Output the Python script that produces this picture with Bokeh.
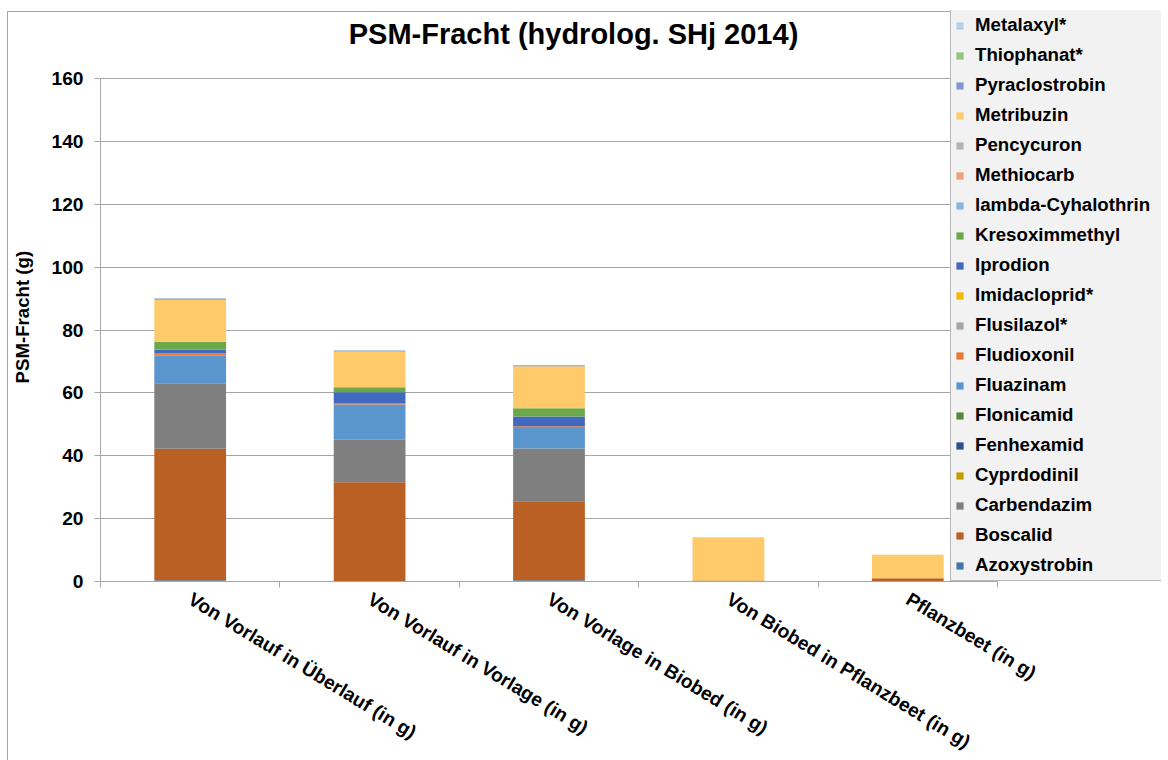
from bokeh.plotting import figure
from bokeh.models import (Range1d, FixedTicker, Legend, LegendItem, Title, Label)
from bokeh.embed import file_html
from bokeh.resources import INLINE

categories = ["Von Vorlauf in Überlauf (in g)", "Von Vorlauf in Vorlage (in g)",
              "Von Vorlage in Biobed (in g)", "Von Biobed in Pflanzbeet (in g)",
              "Pflanzbeet (in g)"]

series_names = ["Azoxystrobin", "Boscalid", "Carbendazim", "Cyprdodinil", "Fenhexamid",
                "Flonicamid", "Fluazinam", "Fludioxonil", "Flusilazol*", "Imidacloprid*",
                "Iprodion", "Kresoximmethyl", "lambda-Cyhalothrin", "Methiocarb",
                "Pencycuron", "Metribuzin", "Pyraclostrobin", "Thiophanat*", "Metalaxyl*"]

Azoxystrobin = [0.4, 0.0, 0.4, 0.0, 0.0]
Boscalid = [41.8, 31.6, 25.1, 0.3, 1.0]
Carbendazim = [20.9, 13.5, 16.8, 0.0, 0.0]
Cyprdodinil = [0.0, 0.0, 0.0, 0.0, 0.0]
Fenhexamid = [0.0, 0.0, 0.0, 0.0, 0.0]
Flonicamid = [0.0, 0.0, 0.0, 0.0, 0.0]
Fluazinam = [8.8, 11.2, 6.5, 0.0, 0.0]
Fludioxonil = [0.7, 0.5, 0.6, 0.0, 0.0]
Flusilazol = [0.0, 0.0, 0.0, 0.0, 0.0]
Imidacloprid = [0.0, 0.0, 0.0, 0.0, 0.0]
Iprodion = [1.1, 3.4, 3.1, 0.0, 0.0]
Kresoximmethyl = [2.6, 1.6, 2.6, 0.0, 0.0]
lambda_Cyhalothrin = [0.0, 0.0, 0.0, 0.0, 0.0]
Methiocarb = [0.0, 0.0, 0.0, 0.0, 0.0]
Pencycuron = [0.0, 0.0, 0.0, 0.0, 0.0]
Metribuzin = [13.3, 11.4, 13.4, 13.8, 7.5]
Pyraclostrobin = [0.4, 0.3, 0.3, 0.0, 0.0]
Thiophanat = [0.0, 0.0, 0.0, 0.0, 0.0]
Metalaxyl = [0.0, 0.1, 0.0, 0.0, 0.0]

series_values = [Azoxystrobin, Boscalid, Carbendazim, Cyprdodinil, Fenhexamid, Flonicamid,
                 Fluazinam, Fludioxonil, Flusilazol, Imidacloprid, Iprodion, Kresoximmethyl,
                 lambda_Cyhalothrin, Methiocarb, Pencycuron, Metribuzin, Pyraclostrobin,
                 Thiophanat, Metalaxyl]

colors = ["#4677AC", "#BA6024", "#7F7F7F", "#C89B00", "#2E4F8F", "#548B3A",
          "#5A95CD", "#E9772F", "#A5A5A5", "#F5B800", "#4069BF", "#6AA84A",
          "#88B4E0", "#F0A07A", "#B5B5B5", "#FFCA69", "#7D97D3", "#93C47D", "#B6CFEA"]

y_ticks = [0, 20, 40, 60, 80, 100, 120, 140, 160]
y_max = 160

FONT = "Liberation Sans"
FS = "18.67px"
FS_AX = "19.2px"
GRID = "#A6A6A6"

# layout (pixels)
PLOT_W = 897          # width occupied by the categories
PLOT_H = 503          # height occupied by 0..160
FRAME_W = 1061        # frame extends under the legend
FRAME_H = 571

n_cat = len(categories)
centers = [i + 0.5 for i in range(n_cat)]
boundaries = list(range(n_cat + 1))

keys = ["s%d" % i for i in range(len(series_names))]
data = {"x": centers}
for k, v in zip(keys, series_values):
    data[k] = v

p = figure(x_range=Range1d(0, n_cat * FRAME_W / PLOT_W),
           y_range=Range1d(0, y_max * FRAME_H / PLOT_H),
           frame_width=FRAME_W, frame_height=FRAME_H,
           min_border_left=99, min_border_top=10, min_border_right=0,
           min_border_bottom=179,
           output_backend="svg", toolbar_location=None)
p.background_fill_color = None
p.border_fill_color = None
p.styles = {
    "margin-left": "-6px",
    "background": ("linear-gradient(#A6A6A6, #A6A6A6) 13px 11px / 1px 100% no-repeat, "
                   "linear-gradient(#A6A6A6, #A6A6A6) 13px 11px / 100% 1px no-repeat"),
}

renderers = p.vbar_stack(keys, x="x", width=0.4, source=data, color=colors,
                         line_color=None)

xax = p.xaxis[0]
xax.bounds = (0, n_cat)
xax.ticker = FixedTicker(ticks=centers, minor_ticks=boundaries)
xax.major_label_overrides = {c: lab for c, lab in zip(centers, categories)}
xax.major_tick_line_color = None
xax.minor_tick_out = 6
xax.minor_tick_in = 0
xax.minor_tick_line_color = GRID
xax.axis_line_color = GRID
xax.major_label_orientation = -0.546
xax.major_label_text_font = FONT
xax.major_label_text_font_style = "bold"
xax.major_label_text_font_size = FS_AX
xax.major_label_text_color = "black"
xax.major_label_standoff = 10
p.xgrid.visible = False

yax = p.yaxis[0]
yax.bounds = (0, y_max)
yax.ticker = FixedTicker(ticks=y_ticks)
yax.axis_line_color = GRID
yax.major_tick_line_color = GRID
yax.major_tick_out = 6
yax.major_tick_in = 0
yax.minor_tick_line_color = None
yax.major_label_text_font = FONT
yax.major_label_text_font_style = "bold"
yax.major_label_text_font_size = FS_AX
yax.major_label_text_color = "black"
yax.major_label_standoff = 11
p.ygrid.grid_line_color = GRID
p.ygrid.ticker = FixedTicker(ticks=y_ticks)

p.add_layout(Title(text="PSM-Fracht (g)", align="left", offset=198, standoff=31,
                   text_font=FONT, text_font_style="bold", text_font_size=FS,
                   text_color="black"), "left")

p.add_layout(Label(x=(572 - 99) * n_cat / PLOT_W, y=(581 - 33) * y_max / PLOT_H,
                   text="PSM-Fracht (hydrolog. SHj 2014)",
                   text_align="center", text_baseline="middle",
                   text_font=FONT, text_font_style="bold", text_font_size="29px",
                   text_color="black"))

p.outline_line_color = None

items = [LegendItem(label=n, renderers=[r]) for n, r in zip(series_names, renderers)]
items.reverse()
legend = Legend(items=items, location=(850, 0),
                glyph_width=9, glyph_height=9, label_height=20, label_width=183,
                spacing=8, padding=4, margin=0, label_standoff=11,
                label_text_font=FONT, label_text_font_style="bold",
                label_text_font_size=FS, label_text_color="black",
                background_fill_color="#F2F2F2", background_fill_alpha=1.0,
                border_line_color="#7F7F7F", border_line_width=1)
p.add_layout(legend, "center")

open("out.html", "w").write(file_html(p, INLINE))
